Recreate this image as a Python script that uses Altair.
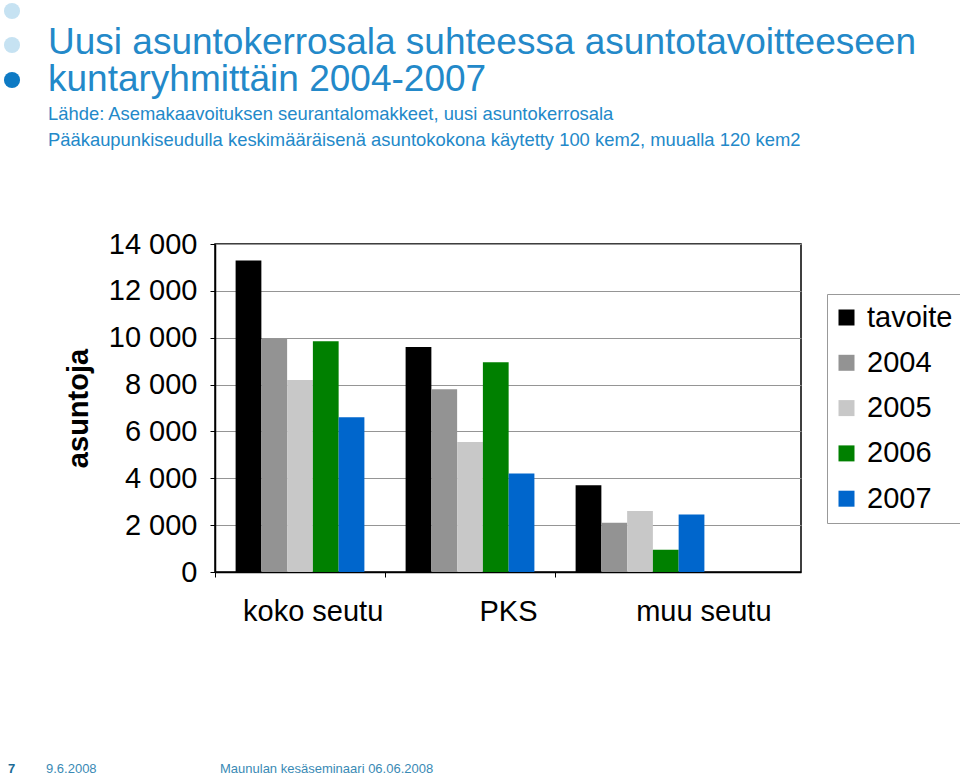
import altair as alt
import pandas as pd

regions = ["koko seutu", "PKS", "muu seutu"]
series = ["tavoite", "2004", "2005", "2006", "2007"]
koko_seutu = [13300, 9950, 8200, 9850, 6600]
pks = [9600, 7800, 5550, 8950, 4200]
muu_seutu = [3700, 2100, 2600, 950, 2450]
colors = ["#000000", "#939393", "#C8C8C8", "#008000", "#0066CC"]
y_ticks = [0, 2000, 4000, 6000, 8000, 10000, 12000, 14000]

title_lines = ["Uusi asuntokerrosala suhteessa asuntotavoitteeseen", "kuntaryhmittäin 2004-2007"]
subtitle_lines = ["Lähde: Asemakaavoituksen seurantalomakkeet, uusi asuntokerrosala",
                  "Pääkaupunkiseudulla keskimääräisenä asuntokokona käytetty 100 kem2, muualla 120 kem2"]

rows = []
for reg, vals in zip(regions, [koko_seutu, pks, muu_seutu]):
    for s, v in zip(series, vals):
        rows.append({"alue": reg, "sarja": s, "asuntoja": v})
df = pd.DataFrame(rows)

FONT = "Liberation Sans"
BLUE = "#2389C9"
W, H = 586, 328
LEFT, TOP = 215, 244

bars = alt.Chart(df).mark_bar().encode(
    x=alt.X("alue:N", sort=regions,
            scale=alt.Scale(paddingInner=0, paddingOuter=0.2235, align=0),
            axis=alt.Axis(title=None, labels=False, bandPosition=0, tickSize=5,
                          tickColor="black", tickWidth=1, domain=True,
                          domainColor="black", domainWidth=1.5, orient="bottom")),
    xOffset=alt.XOffset("sarja:N", sort=series,
                        scale=alt.Scale(paddingInner=0, paddingOuter=0.8)),
    y=alt.Y("asuntoja:Q", scale=alt.Scale(domain=[0, 14000], nice=False),
            axis=alt.Axis(values=y_ticks,
                          labelExpr="replace(format(datum.value, ','), ',', ' ')",
                          labelFontSize=29, labelColor="black", labelPadding=13,
                          tickSize=5, tickColor="black", domainColor="black",
                          domainWidth=1.5, gridColor="#959595", gridWidth=1,
                          title="asuntoja", titleFontSize=29, titleFontWeight="bold",
                          titleColor="black", titleAngle=-90, titleX=-122, titleY=H / 2,
                          titleAlign="center", titleBaseline="bottom")),
    color=alt.Color("sarja:N", sort=series,
                    scale=alt.Scale(domain=series, range=colors),
                    legend=alt.Legend(title=None, orient="none", legendX=612, legendY=50,
                                      fillColor="white", strokeColor="#999999",
                                      padding=9, symbolType="square", symbolSize=256,
                                      symbolStrokeWidth=0, symbolOffset=-4,
                                      labelFontSize=29, labelColor="black",
                                      labelOffset=6, rowPadding=15.3)),
)

label_axis = alt.Chart(pd.DataFrame({"alue": regions})).mark_point(opacity=0).encode(
    x=alt.X("alue:N", sort=regions,
            scale=alt.Scale(range=[0, W], paddingInner=0, paddingOuter=0),
            axis=alt.Axis(title=None, ticks=False, domain=False, labelFontSize=29,
                          labelColor="black", labelPadding=25, labelAngle=0,
                          orient="bottom"))
)

deco = pd.DataFrame({"k": [0]})
dots = [(-203, -233, "#C6E2F2"), (-203, -199, "#C6E2F2"), (-203, -164, "#0E7AC4")]
dot_layers = [
    alt.Chart(deco).mark_circle(size=260, opacity=1, color=c).encode(
        x=alt.value(x), y=alt.value(y))
    for x, y, c in dots
]

def txt(s, x, y, size, color, weight="normal"):
    return alt.Chart(deco).mark_text(text=s, fontSize=size, fontWeight=weight, color=color,
                                     align="left", baseline="alphabetic", font=FONT).encode(
        x=alt.value(x), y=alt.value(y))

texts = [
    txt(title_lines[0], -167, -190, 37, BLUE),
    txt(title_lines[1], -167, -153, 37, BLUE),
    txt(subtitle_lines[0], -167, -124, 18.4, BLUE),
    txt(subtitle_lines[1], -167, -98, 18.4, BLUE),
    txt("7", -207, 529, 13, "#1C6B96", "bold"),
    txt("9.6.2008", -169, 529, 13, "#3A8AB5"),
    txt("Maunulan kesäseminaari 06.06.2008", 5, 529, 13, "#3A8AB5"),
]

chart = alt.layer(bars, label_axis, *dot_layers, *texts).resolve_scale(
    x="independent"
).properties(
    width=W, height=H,
    autosize=alt.AutoSizeParams(type="none"),
    padding={"left": LEFT, "top": TOP, "right": 960 - LEFT - W, "bottom": 778 - TOP - H},
).configure(font=FONT).configure_view(stroke="black", strokeWidth=1.5)

chart.save("out.html", embed_options={"renderer": "svg", "actions": False})
